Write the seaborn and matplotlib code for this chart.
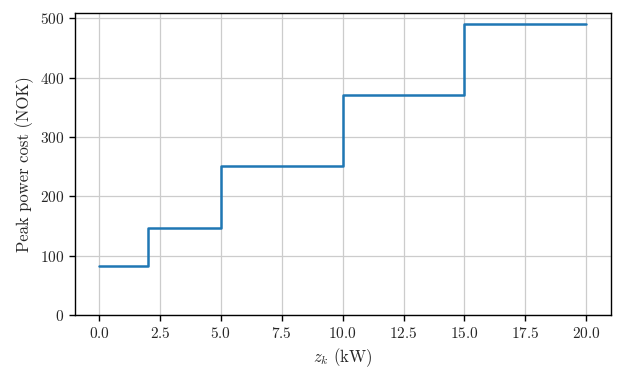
import numpy as np
import pandas as pd
import matplotlib
matplotlib.use("Agg")
import matplotlib.pyplot as plt
import seaborn as sns

# capacity step boundaries (kW) and monthly peak power cost (NOK)
z_kw = [0, 2, 5, 10, 15, 20]
cost_nok = [83, 147, 252, 371, 490, 490]

sns.set_theme(style="ticks")
plt.rcParams["font.family"] = "serif"
plt.rcParams["font.serif"] = ["cmr10", "DejaVu Serif"]
plt.rcParams["mathtext.fontset"] = "cm"
plt.rcParams["axes.formatter.use_mathtext"] = True
plt.rcParams["axes.unicode_minus"] = False

df = pd.DataFrame({"z": z_kw, "cost": cost_nok})

fig, ax = plt.subplots(figsize=(6.23, 3.8), dpi=100)
sns.lineplot(data=df, x="z", y="cost", ax=ax, color="#1f77b4",
             linewidth=1.8, drawstyle="steps-post")
ax.set_xlim(-1, 21)
ax.set_ylim(0, 508)
ax.set_xticks(np.arange(0, 20.1, 2.5))
ax.set_yticks(np.arange(0, 501, 100))
ax.grid(True, color="#cccccc", linewidth=0.9)
for s in ax.spines.values():
    s.set_color("black")
    s.set_linewidth(1.0)
ax.tick_params(labelsize=11, color="black", length=4, width=1)
ax.set_xlabel(r"$z_k$ (kW)", fontsize=12)
ax.set_ylabel("Peak power cost (NOK)", fontsize=12)
fig.subplots_adjust(left=0.12, right=0.98, top=0.965, bottom=0.17)
fig.savefig("out.png", dpi=100)
